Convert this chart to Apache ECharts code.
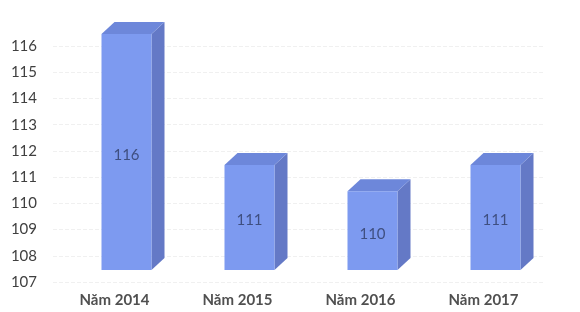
<!DOCTYPE html>
<html>
<head>
<meta charset="utf-8">
<script src="https://cdn.jsdelivr.net/npm/echarts@6/dist/echarts.min.js"></script>
<style>
  html, body { margin: 0; padding: 0; background: #fff; }
  #chart { width: 580px; height: 312px; }
</style>
</head>
<body>
<div id="chart"></div>
<script>
const categories = ['Năm 2014', 'Năm 2015', 'Năm 2016', 'Năm 2017']
const values = [116, 111, 110, 111]
const yMin = 107
const yMax = 116

const myChart = echarts.init(document.getElementById('chart'))

// 3D box: front face + top + right side
function renderBox(params, api) {
  const cat = api.value(0)
  const val = api.value(1)
  const base = api.coord([cat, yMin])
  const top = api.coord([cat, val])
  const shift = 12 // front face sits in front of the back wall
  const w = 50
  const dx = 13
  const dy = -12
  const x0 = base[0] + shift - w / 2
  const x1 = x0 + w
  const yb = base[1] - shift
  const yt = top[1] - shift
  return {
    type: 'group',
    children: [
      {
        type: 'polygon',
        shape: { points: [[x1, yt], [x1 + dx, yt + dy], [x1 + dx, yb + dy], [x1, yb]] },
        style: { fill: '#6479c6' }
      },
      {
        type: 'polygon',
        shape: { points: [[x0, yt], [x0 + dx, yt + dy], [x1 + dx, yt + dy], [x1, yt]] },
        style: { fill: '#6d87da' }
      },
      {
        type: 'rect',
        shape: { x: x0, y: yt, width: w, height: yb - yt },
        style: { fill: '#7d9af0' }
      },
      {
        type: 'text',
        x: (x0 + x1) / 2,
        y: (yt + yb) / 2 + 3,
        style: {
          text: String(val),
          fill: '#3f4f80',
          font: '15px Lato',
          align: 'center',
          verticalAlign: 'middle'
        }
      }
    ]
  }
}

const option = {
  animation: false,
  grid: { left: 53, right: 35, top: 46, bottom: 30 },
  xAxis: {
    type: 'category',
    data: categories,
    axisLine: { show: false },
    axisTick: { show: false },
    axisLabel: {
      margin: 11,
      fontFamily: 'Lato',
      fontSize: 15,
      fontWeight: 'bold',
      color: '#505050'
    }
  },
  yAxis: {
    type: 'value',
    min: yMin,
    max: yMax,
    interval: 1,
    axisLine: { show: false },
    axisTick: { show: false },
    axisLabel: {
      margin: 16,
      fontFamily: 'Lato',
      fontSize: 15,
      color: '#404040'
    },
    splitLine: { lineStyle: { color: '#f0f0f0', type: 'dashed' } }
  },
  series: [
    {
      type: 'custom',
      renderItem: renderBox,
      data: categories.map((c, i) => [i, values[i]])
    }
  ]
}

option && myChart.setOption(option)
</script>
</body>
</html>
